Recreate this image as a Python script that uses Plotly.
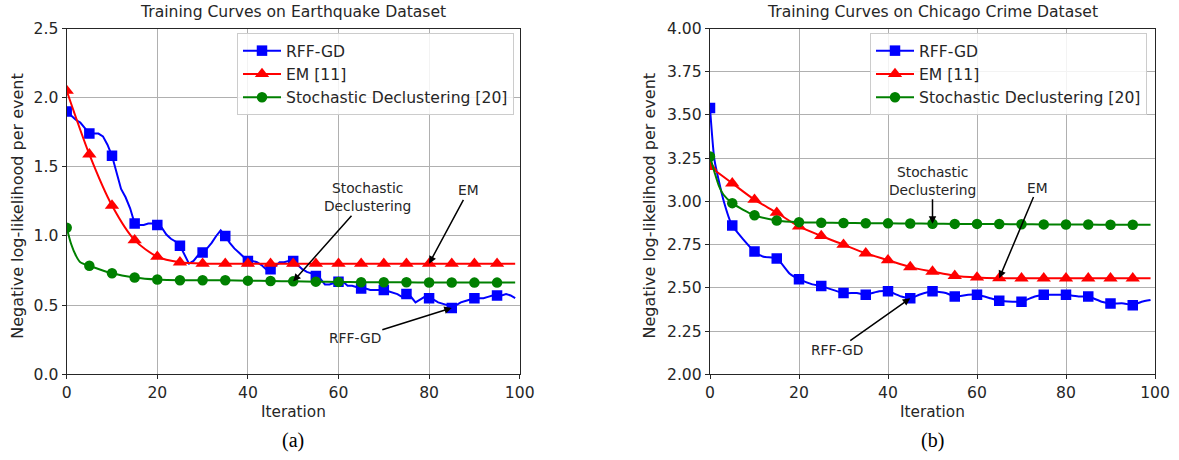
import plotly.graph_objects as go

# ---------------- data ----------------
# Earthquake dataset (left)
eq_rff_x = list(range(100))
eq_rff_y = [1.90, 1.87, 1.84, 1.82, 1.78, 1.74, 1.74, 1.74, 1.72, 1.66,
            1.58, 1.45, 1.34, 1.28, 1.20, 1.09, 1.08, 1.08, 1.09, 1.09,
            1.08, 1.06, 1.01, 0.98, 0.96, 0.93, 0.87, 0.80, 0.82, 0.86,
            0.88, 0.91, 0.95, 1.00, 1.04, 1.00, 0.95, 0.91, 0.88, 0.85,
            0.82, 0.82, 0.81, 0.79, 0.76, 0.76, 0.78, 0.81, 0.81, 0.82,
            0.82, 0.79, 0.76, 0.74, 0.73, 0.71, 0.69, 0.65, 0.65, 0.66,
            0.67, 0.67, 0.64, 0.64, 0.63, 0.62, 0.62, 0.61, 0.61, 0.61,
            0.61, 0.60, 0.59, 0.58, 0.56, 0.58, 0.56, 0.52, 0.54, 0.56,
            0.55, 0.54, 0.52, 0.51, 0.50, 0.48, 0.50, 0.52, 0.53, 0.54,
            0.55, 0.55, 0.55, 0.56, 0.57, 0.57, 0.57, 0.58, 0.57, 0.55]

eq_em_x = [0, 5, 10, 15, 20, 25, 30, 35, 40, 45, 50, 55, 60, 65, 70, 75, 80, 85, 90, 95, 99]
eq_em_y = [2.05, 1.59, 1.22, 0.97, 0.85, 0.81, 0.80, 0.80, 0.80, 0.80, 0.80,
           0.80, 0.80, 0.80, 0.80, 0.80, 0.80, 0.80, 0.80, 0.80, 0.80]

eq_sd_x = [0, 1, 2, 3, 5, 10, 15, 20, 25, 30, 35, 40, 45, 50, 55, 60, 65, 70, 75, 80, 85, 90, 95, 99]
eq_sd_y = [1.06, 0.94, 0.86, 0.81, 0.785, 0.73, 0.70, 0.685, 0.68, 0.68, 0.68,
           0.677, 0.675, 0.672, 0.67, 0.668, 0.666, 0.665, 0.665, 0.664, 0.664,
           0.663, 0.663, 0.663]

# Chicago crime dataset (right)
cc_rff_x = [0, 1, 3, 5, 10, 12, 15, 18, 20, 23, 25, 30, 33, 35, 38, 40, 43, 45, 47,
            50, 53, 55, 58, 60, 63, 65, 68, 70, 73, 75, 78, 80, 83, 85, 88, 90, 93,
            95, 97, 99]
cc_rff_y = [3.54, 3.24, 3.01, 2.86, 2.71, 2.68, 2.67, 2.58, 2.55, 2.52, 2.51, 2.47,
            2.47, 2.46, 2.48, 2.48, 2.45, 2.44, 2.46, 2.48, 2.47, 2.45, 2.46, 2.46,
            2.44, 2.425, 2.42, 2.42, 2.45, 2.46, 2.46, 2.46, 2.45, 2.45, 2.42, 2.41,
            2.41, 2.40, 2.42, 2.43]

cc_em_x = [0, 5, 10, 15, 20, 25, 30, 35, 40, 45, 50, 55, 60, 65, 70, 75, 80, 85, 90, 95, 99]
cc_em_y = [3.20, 3.105, 3.01, 2.935, 2.855, 2.80, 2.75, 2.70, 2.66, 2.62, 2.594,
           2.57, 2.56, 2.556, 2.555, 2.555, 2.555, 2.555, 2.555, 2.555, 2.555]

cc_sd_x = [0, 1, 2, 3, 5, 10, 15, 20, 25, 30, 35, 40, 45, 50, 55, 60, 65, 70, 75, 80, 85, 90, 95, 99]
cc_sd_y = [3.26, 3.17, 3.09, 3.04, 2.99, 2.92, 2.89, 2.88, 2.877, 2.875, 2.874,
           2.873, 2.872, 2.871, 2.87, 2.87, 2.869, 2.868, 2.867, 2.866, 2.866,
           2.865, 2.865, 2.865]

series_names = ["RFF-GD", "EM [11]", "Stochastic Declustering [20]"]
titles = ["Training Curves on Earthquake Dataset", "Training Curves on Chicago Crime Dataset"]
x_ticks = [0, 20, 40, 60, 80, 100]
eq_y_ticks = [0.0, 0.5, 1.0, 1.5, 2.0, 2.5]
cc_y_ticks = [2.00, 2.25, 2.50, 2.75, 3.00, 3.25, 3.50, 3.75, 4.00]

# ---------------- style ----------------
FONT = "DejaVu Sans"
TXT = "#262626"
FS = 15.6
colors = ["#0000ff", "#ff0000", "#008000"]
symbols = ["square", "triangle-up", "circle"]
msizes = [10.5, 12.5, 10.5]
LW = 2

fig = go.Figure()


def add_series(x, y, idx, xa, ya, legend, shape, smooth=1.0):
    col = colors[idx]
    line = dict(color=col, width=LW, shape=shape)
    if shape == "spline":
        line["smoothing"] = smooth
    fig.add_trace(go.Scatter(x=x, y=y, mode="lines", line=line, xaxis=xa, yaxis=ya,
                             showlegend=False, hoverinfo="skip"))
    mx = [xi for xi in x if xi % 5 == 0 and xi < 100]
    my = [yi for xi, yi in zip(x, y) if xi % 5 == 0 and xi < 100]
    fig.add_trace(go.Scatter(x=mx, y=my, mode="markers",
                             marker=dict(color=col, size=msizes[idx], symbol=symbols[idx],
                                         line=dict(width=0)),
                             xaxis=xa, yaxis=ya, showlegend=False))
    # legend entry
    fig.add_trace(go.Scatter(x=[None], y=[None], mode="lines+markers", name=series_names[idx],
                             line=dict(color=col, width=LW),
                             marker=dict(color=col, size=msizes[idx], symbol=symbols[idx]),
                             xaxis=xa, yaxis=ya, legend=legend, legendgroup=legend + str(idx)))


add_series(eq_rff_x, eq_rff_y, 0, "x", "y", "legend", "linear")
add_series(eq_em_x, eq_em_y, 1, "x", "y", "legend", "spline", 0.8)
add_series(eq_sd_x, eq_sd_y, 2, "x", "y", "legend", "spline", 0.8)
add_series(cc_rff_x, cc_rff_y, 0, "x2", "y2", "legend2", "spline", 0.5)
add_series(cc_em_x, cc_em_y, 1, "x2", "y2", "legend2", "spline", 0.8)
add_series(cc_sd_x, cc_sd_y, 2, "x2", "y2", "legend2", "spline", 0.8)

W, H = 1179, 460
top_px, bot_px = 28.5, 374.3
ydom = [1 - bot_px / H, 1 - top_px / H]

axis_common = dict(showgrid=True, gridcolor="#b0b0b0", gridwidth=1,
                   showline=True, mirror=True, linecolor="#262626", linewidth=1.3,
                   ticks="outside", ticklen=4, tickwidth=1.2, tickcolor="#262626",
                   tickfont=dict(family=FONT, size=FS, color=TXT), zeroline=False,
                   automargin=False)

legend_common = dict(xanchor="left", yanchor="top",
                     bgcolor="rgba(255,255,255,0.85)", bordercolor="#cccccc", borderwidth=1,
                     font=dict(family=FONT, size=FS, color=TXT), traceorder="grouped",
                     tracegroupgap=0, itemwidth=38)

fig.update_layout(
    width=W, height=H,
    margin=dict(l=0, r=0, t=0, b=0, autoexpand=False),
    paper_bgcolor="white", plot_bgcolor="white",
    xaxis=dict(domain=[66.7 / W, 519.7 / W], range=[0, 100], tickvals=x_ticks,
               anchor="y", **axis_common),
    yaxis=dict(domain=ydom, range=[0, 2.5], tickvals=eq_y_ticks,
               ticktext=[f"{v:.1f}" for v in eq_y_ticks], anchor="x", **axis_common),
    xaxis2=dict(domain=[710 / W, 1155 / W], range=[0, 100], tickvals=x_ticks,
                anchor="y2", **axis_common),
    yaxis2=dict(domain=ydom, range=[2, 4], tickvals=cc_y_ticks,
                ticktext=[f"{v:.2f}" for v in cc_y_ticks], anchor="x2", **axis_common),
    legend=dict(x=237 / W, y=1 - 33 / H, **legend_common),
    legend2=dict(x=870 / W, y=1 - 33 / H, **legend_common),
)

ann = []
# titles
for cx, t in zip([293.2, 932.5], titles):
    ann.append(dict(x=cx / W, y=1 - 12 / H, xref="paper", yref="paper", text=t,
                    xanchor="center", yanchor="middle",
                    showarrow=False, font=dict(family=FONT, size=FS, color=TXT)))
# x labels
for cx in [293.2, 932.5]:
    ann.append(dict(x=cx / W, y=1 - 412 / H, xref="paper", yref="paper", text="Iteration",
                    xanchor="center", yanchor="middle",
                    showarrow=False, font=dict(family=FONT, size=15.3, color=TXT)))
# y labels
for cx in [17.3, 649]:
    ann.append(dict(x=cx / W, y=1 - 205.5 / H, xref="paper", yref="paper",
                    text="Negative log-likelihood per event", textangle=-90,
                    xanchor="center", yanchor="middle",
                    showarrow=False, font=dict(family=FONT, size=16, color=TXT)))
# sub-figure labels
for cx, t in zip([293.2, 932.5], ["(a)", "(b)"]):
    ann.append(dict(x=cx / W, y=1 - 440 / H, xref="paper", yref="paper", text=t,
                    xanchor="center", yanchor="middle",
                    showarrow=False, font=dict(family="Liberation Serif", size=20, color="black")))

# pointer annotations
arrow_style = dict(showarrow=True, arrowhead=2, arrowsize=1, arrowwidth=1.5,
                   arrowcolor="black", font=dict(family=FONT, size=13.8, color=TXT))


def pointer(text, hx, hy, tx, ty, xa, ya):
    d = dict(text=text, x=hx, y=hy, ax=tx, ay=ty, xref=xa, yref=ya,
             axref=xa, ayref=ya, **arrow_style)
    ann.append(d)


pointer("Stochastic<br>Declustering", 50, eq_sd_y[eq_sd_x.index(50)], 66.5, 1.28, "x", "y")
pointer("EM", 80, eq_em_y[eq_em_x.index(80)], 88.7, 1.33, "x", "y")
pointer("RFF-GD", 85, eq_rff_y[85], 63.6, 0.26, "x", "y")
pointer("Stochastic<br>Declustering", 50, cc_sd_y[cc_sd_x.index(50)], 50, 3.12, "x2", "y2")
pointer("EM", 65, cc_em_y[cc_em_x.index(65)], 73.6, 3.08, "x2", "y2")
pointer("RFF-GD", 45, cc_rff_y[cc_rff_x.index(45)], 28.5, 2.14, "x2", "y2")

fig.update_layout(annotations=ann)
fig.write_html("out.html", config={"displayModeBar": False},
               post_script="document.body.style.margin='0px';document.body.style.overflow='hidden';")
